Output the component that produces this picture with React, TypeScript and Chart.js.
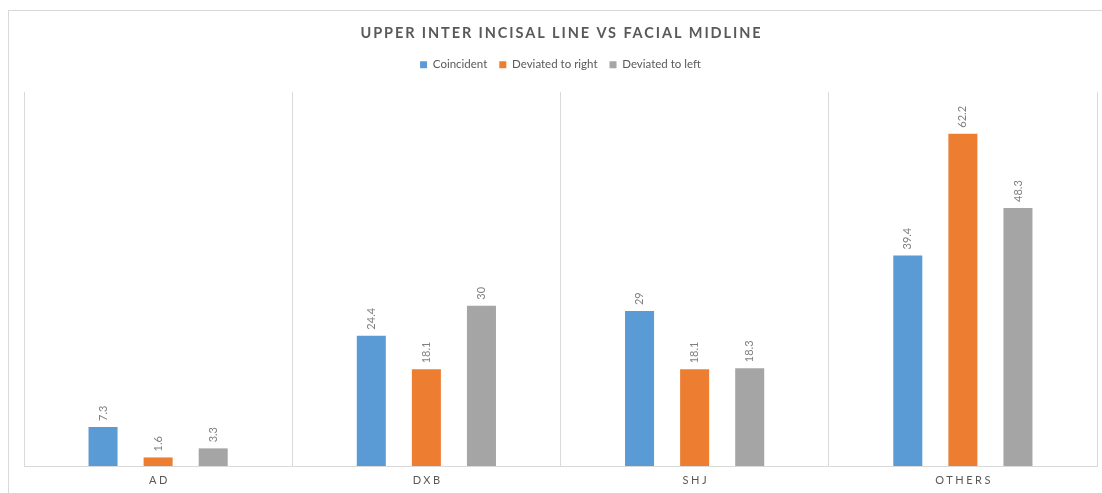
import React, { useEffect, useRef } from 'react';
import { Chart, registerables } from 'chart.js';

Chart.register(...registerables);

const categories = ['AD', 'DXB', 'SHJ', 'OTHERS'];
const seriesNames = ['Coincident', 'Deviated to right', 'Deviated to left'];
const coincident = [7.3, 24.4, 29, 39.4];
const deviatedRight = [1.6, 18.1, 18.1, 62.2];
const deviatedLeft = [3.3, 30, 18.3, 48.3];
const seriesColors = ['#5B9BD5', '#ED7D31', '#A5A5A5'];
const titleText = 'UPPER INTER INCISAL LINE VS FACIAL MIDLINE';

const FONT = 'Lato';

const customPlugin = {
  id: 'customText',
  afterDatasetsDraw(chart: any) {
    const ctx = chart.ctx;
    ctx.save();
    ctx.font = `11px ${FONT}`;
    ctx.fillStyle = '#808080';
    chart.data.datasets.forEach((ds: any, di: number) => {
      const meta = chart.getDatasetMeta(di);
      meta.data.forEach((bar: any, i: number) => {
        const { x, y } = bar.getProps(['x', 'y'], true);
        ctx.save();
        ctx.translate(x, y - 6);
        ctx.rotate(-Math.PI / 2);
        ctx.textAlign = 'left';
        ctx.textBaseline = 'middle';
        ctx.fillText(String(ds.data[i]), 0, 0);
        ctx.restore();
      });
    });
    ctx.restore();
  },
  afterDraw(chart: any) {
    const ctx = chart.ctx;
    const area = chart.chartArea;
    ctx.save();
    ctx.fillStyle = '#595959';
    ctx.textAlign = 'center';
    ctx.textBaseline = 'middle';
    ctx.font = `bold 14.5px ${FONT}`;
    ctx.letterSpacing = '1.9px';
    ctx.fillText(titleText, (area.left + area.right) / 2 + 1, 33);
    ctx.font = `11px ${FONT}`;
    ctx.letterSpacing = '2.5px';
    const xs = chart.scales.x;
    categories.forEach((c, i) => {
      ctx.fillText(c, xs.getPixelForTick(i) + 1.25, 480);
    });
    ctx.restore();
  },
};

export default function App() {
  const ref = useRef<HTMLCanvasElement | null>(null);

  useEffect(() => {
    if (!ref.current) return;
    const seriesData = [coincident, deviatedRight, deviatedLeft];
    const chart = new Chart(ref.current, {
      type: 'bar',
      data: {
        labels: categories,
        datasets: seriesNames.map((name, i) => ({
          label: name,
          data: seriesData[i],
          backgroundColor: seriesColors[i],
          borderWidth: 0,
          categoryPercentage: 0.616,
          barPercentage: 0.527,
        })),
      },
      options: {
        animation: false,
        responsive: true,
        maintainAspectRatio: false,
        layout: { padding: { top: 47, left: 24, right: 5, bottom: 27 } },
        plugins: {
          title: { display: false },
          tooltip: { enabled: false },
          legend: {
            display: true,
            position: 'top',
            labels: {
              boxWidth: 7,
              boxHeight: 7,
              padding: 12,
              color: '#595959',
              font: { family: FONT, size: 11.5 },
            },
          },
        },
        scales: {
          x: {
            grid: { display: true, color: '#d9d9d9', drawTicks: false, offset: true },
            border: { display: true, color: '#d9d9d9' },
            ticks: { display: false },
          },
          xTop: {
            type: 'category',
            position: 'top',
            display: true,
            grid: { display: false, drawTicks: false },
            border: { display: false },
            ticks: { display: false },
            afterFit: (s: any) => {
              s.height = 11.5;
            },
          },
          y: {
            display: false,
            min: 0,
            max: 70,
          },
        },
      },
      plugins: [customPlugin],
    });
    return () => chart.destroy();
  }, []);

  return (
    <div style={{ position: 'fixed', left: 0, top: 0, width: 1102, height: 493, background: '#fff', overflow: 'hidden' }}>
      <div style={{ position: 'absolute', left: 8, top: 10, width: 1110, height: 500, border: '1px solid #d9d9d9', boxSizing: 'border-box' }} />
      <canvas ref={ref} style={{ position: 'absolute', left: 0, top: 0, width: 1102, height: 493 }} />
    </div>
  );
}
